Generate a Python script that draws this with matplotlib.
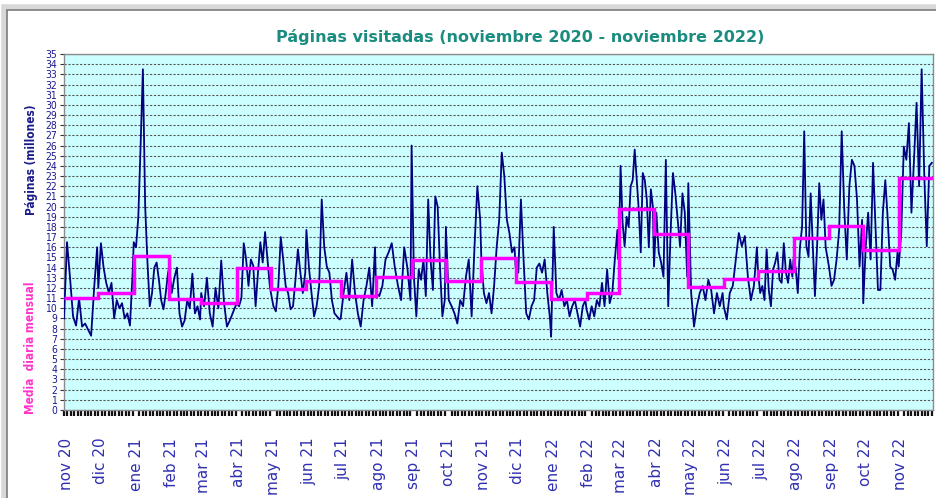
import numpy as np
import pandas as pd
import matplotlib
matplotlib.use("Agg")
import matplotlib.pyplot as plt
import matplotlib.dates as mdates
from matplotlib.patches import Rectangle

# month labels and monthly average (media diaria mensual)
month_labels = ["nov 20", "dic 20", "ene 21", "feb 21", "mar 21", "abr 21", "may 21",
                "jun 21", "jul 21", "ago 21", "sep 21", "oct 21", "nov 21", "dic 21",
                "ene 22", "feb 22", "mar 22", "abr 22", "may 22", "jun 22", "jul 22",
                "ago 22", "sep 22", "oct 22", "nov 22"]
monthly_avg = [11.0, 11.5, 15.1, 10.9, 10.5, 14.0, 11.9, 12.7, 11.2, 13.1, 14.7, 12.7,
               14.9, 12.6, 10.9, 11.5, 19.8, 17.3, 12.1, 12.9, 13.7, 16.9, 18.1, 15.7, 22.8]

# daily pages (millions), read off roughly every 2-3 days, month by month
nov20 = [9.0, 16.5, 13.0, 9.2, 8.3, 11.0, 8.2, 8.5, 7.9, 7.3, 12.0, 16.0]
dic20 = [12.0, 16.4, 14.0, 12.5, 11.5, 12.5, 9.0, 10.8, 10.0, 10.5, 9.0, 9.5, 8.3, 13.5]
ene21 = [16.5, 16.0, 19.0, 26.0, 33.5, 20.0, 14.5, 10.2, 11.5, 14.0, 14.5, 12.8, 10.8, 9.9, 11.5, 13.5]
feb21 = [14.0, 11.5, 13.0, 14.0, 9.5, 8.2, 8.8, 10.8, 10.0, 13.4, 9.5, 10.2, 8.9]
mar21 = [11.5, 10.2, 13.0, 9.5, 8.2, 12.0, 10.0, 14.7, 10.5, 8.2, 8.8, 9.5, 10.2]
abr21 = [10.5, 10.2, 11.0, 16.4, 14.8, 12.2, 14.8, 14.2, 10.2, 13.5, 16.5, 14.5, 17.5, 14.8, 12.2]
may21 = [11.5, 10.2, 9.7, 12.2, 17.0, 14.8, 12.2, 11.5, 9.9, 10.2, 12.8, 15.8, 13.5, 11.5, 13.5]
jun21 = [17.7, 14.0, 11.5, 9.2, 10.2, 12.2, 20.7, 16.0, 14.1, 13.5, 10.8, 9.5, 9.2, 8.9]
jul21 = [9.0, 11.5, 13.5, 10.8, 14.8, 11.5, 9.5, 8.2, 10.8, 12.2, 14.0, 10.2, 16.0]
ago21 = [11.5, 11.2, 12.2, 14.8, 15.5, 16.4, 14.0, 12.2, 10.8, 16.0, 14.0, 10.8]
sep21 = [26.0, 13.0, 9.2, 13.8, 12.8, 14.8, 11.2, 20.7, 14.8, 11.8, 21.0, 20.0, 14.0, 9.2, 10.8]
oct21 = [18.0, 10.8, 10.2, 9.5, 8.5, 10.8, 10.2, 13.1, 14.8, 9.2, 16.0, 22.0, 18.7]
nov21 = [14.8, 11.5, 10.5, 11.5, 9.5, 12.2, 16.0, 18.7, 25.3, 23.0, 18.7, 17.4, 15.5, 16.0]
dic21 = [14.0, 13.5, 20.7, 14.8, 9.5, 8.9, 10.2, 10.8, 14.0, 14.4, 13.5, 14.8, 11.5, 9.0]
ene22 = [7.2, 18.0, 11.5, 10.8, 11.8, 10.2, 10.8, 9.2, 10.2, 10.8, 9.5, 8.2, 10.2, 10.8]
feb22 = [9.9, 8.9, 10.2, 9.2, 10.8, 10.2, 12.5, 10.2, 13.8, 10.5, 11.5, 14.8, 17.7]
mar22 = [14.8, 24.0, 18.4, 16.1, 19.0, 18.0, 22.0, 22.6, 25.6, 22.6, 19.7, 15.5, 23.3, 22.6, 20.7, 16.0, 21.7, 20.0]
abr22 = [14.1, 19.4, 15.5, 14.5, 13.1, 24.6, 10.2, 17.4, 23.3, 21.3, 18.7, 16.1, 21.3, 19.4, 13.1]
may22 = [22.3, 11.5, 8.2, 10.2, 11.5, 12.2, 10.8, 12.8, 11.8, 9.5, 11.5, 10.2, 11.5]
jun22 = [10.2, 8.9, 11.5, 12.2, 14.8, 17.4, 16.1, 17.1, 13.1, 10.8, 12.2, 16.0]
jul22 = [13.5, 11.5, 12.2, 10.8, 15.8, 11.8, 10.2, 13.8, 14.5, 15.5, 12.8, 12.5, 16.4, 13.5, 12.5, 14.8, 13.1]
ago22 = [14.8, 14.0, 11.5, 16.0, 18.0, 27.4, 16.1, 15.1, 21.3, 16.1, 11.2, 16.1, 22.3, 18.7, 20.7, 16.0, 14.8]
sep22 = [14.1, 12.2, 12.8, 14.8, 17.7, 27.4, 19.7, 14.8, 22.0, 24.6, 24.0, 20.7, 14.1, 18.7]
oct22 = [10.5, 16.0, 19.4, 14.8, 24.3, 18.0, 11.8, 11.8, 19.4, 22.6, 18.7, 14.1, 13.8, 12.8, 15.5]
nov22 = [14.1, 17.4, 25.9, 24.6, 28.2, 19.4, 24.6, 30.2, 22.0, 33.5, 23.3, 16.1, 24.0, 24.3]

months = [nov20, dic20, ene21, feb21, mar21, abr21, may21, jun21, jul21, ago21, sep21, oct21,
          nov21, dic21, ene22, feb22, mar22, abr22, may22, jun22, jul22, ago22, sep22, oct22, nov22]

starts = pd.date_range("2020-11-01", periods=len(month_labels) + 1, freq="MS")
edges = mdates.date2num(starts.to_pydatetime())

xs, ys = [], []
for i, vals in enumerate(months):
    pos = np.linspace(edges[i], edges[i + 1] - 1, len(vals))
    xs.extend(pos)
    ys.extend(vals)

navy = "#1a1a8c"
cond = dict(family=["DejaVu Sans Condensed", "DejaVu Sans"], stretch="condensed")
fig = plt.figure(figsize=(9.36, 4.98), dpi=100)

# outer chart frame with a soft shadow
fig.patches.append(Rectangle((4 / 936, -0.05), 1.2, 1 - 7 / 498 + 0.05, transform=fig.transFigure,
                             fc="none", ec="#d8d8d8", lw=4, zorder=-2))
fig.patches.append(Rectangle((7 / 936, -0.05), 1.2, 1 - 10 / 498 + 0.05, transform=fig.transFigure,
                             fc="white", ec="#7a7a7a", lw=1.2, zorder=-1))

ax = fig.add_axes([64 / 936, 1 - 410 / 498, (933 - 64) / 936, (410 - 54) / 498])
ax.set_zorder(1)
ax.set_facecolor("#ccffff")

ax.plot(xs, ys, color="#000080", lw=1.3, zorder=3)
ax.stairs(monthly_avg, edges, baseline=None, color="#ff00ff", lw=2.5, zorder=4)

ax.set_xlim(edges[0], edges[-1])
ax.set_ylim(0, 35)
ax.set_yticks(range(0, 36))
ax.yaxis.grid(True, color="#555555", ls=(0, (2, 1.5)), lw=0.8)
ax.set_axisbelow(True)

ax.set_yticklabels([str(v) for v in range(36)], fontsize=7.5, color=navy, **cond)
ax.tick_params(axis="y", length=3, width=0.8, pad=2, color="#333333")

ax.set_xticks(edges[:-1] + 2)
ax.set_xticklabels(month_labels, rotation=90, fontsize=11, color="#3030b0")
ax.xaxis.set_minor_locator(mdates.DayLocator(interval=3))
ax.tick_params(axis="x", which="minor", length=4, width=1.6, color="#111111")
ax.tick_params(axis="x", which="major", length=0, pad=20)

for s in ax.spines.values():
    s.set_color("#8a8a8a")
    s.set_linewidth(1)

fig.text(520 / 936, 1 - 37 / 498, "Páginas visitadas (noviembre 2020 - noviembre 2022)",
         ha="center", va="center", fontsize=11.5, fontweight="bold", color="#1a8c80")
fig.text(31 / 936, 1 - 348 / 498, "Media  diaria mensual", rotation=90, ha="center", va="center",
         fontsize=8.5, fontweight="bold", color="#ff33cc", **cond)
fig.text(31 / 936, 1 - 160 / 498, "Páginas (millones)", rotation=90, ha="center", va="center",
         fontsize=8.5, fontweight="bold", color=navy, **cond)

fig.savefig("out.png", dpi=100)
